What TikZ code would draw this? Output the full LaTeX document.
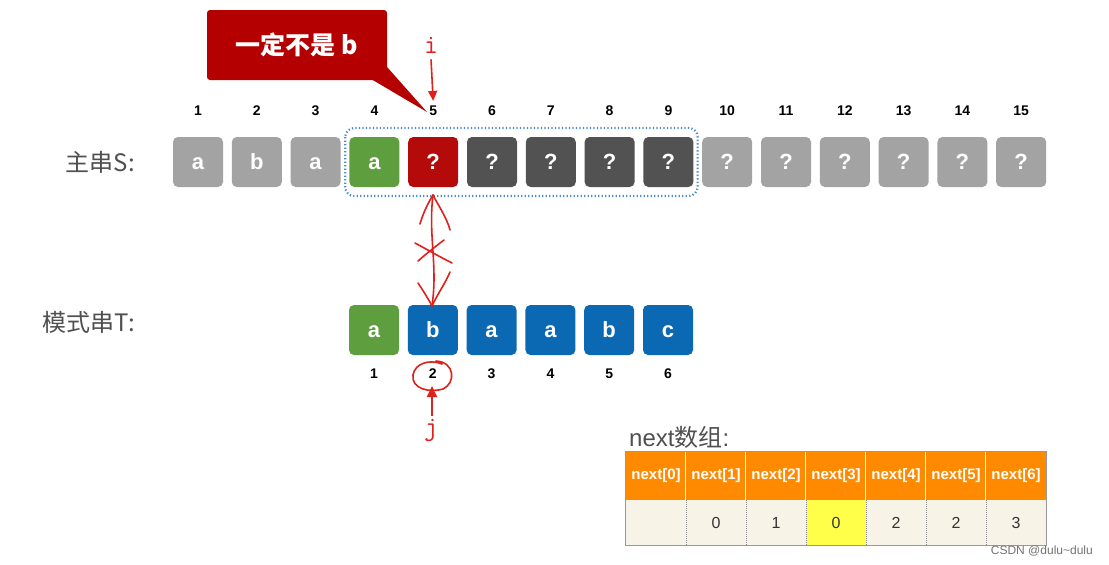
\documentclass[tikz,border=0pt]{standalone}
\usepackage{fontspec}
\setmainfont{Liberation Sans}
\newfontfamily\cjk{Noto Sans CJK SC}
\usetikzlibrary{arrows.meta,calc,fit}
\definecolor{sgray}{HTML}{A3A3A3}
\definecolor{sdark}{HTML}{525252}
\definecolor{sgreen}{HTML}{5E9E3E}
\definecolor{sred}{HTML}{B50A0A}
\definecolor{sblue}{HTML}{0B69B3}
\definecolor{dotblue}{HTML}{4F8CCB}
\definecolor{callred}{HTML}{B40000}
\definecolor{hand}{HTML}{E0201A}
\definecolor{labgray}{HTML}{505050}
\definecolor{hdrorange}{HTML}{FF8A00}
\definecolor{valbeige}{HTML}{F7F3E6}
\definecolor{valyellow}{HTML}{FFFF4A}
\begin{document}
\begin{tikzpicture}[x=1pt,y=-1pt,
  cell/.style={minimum width=50pt,minimum height=50pt,rounded corners=5pt,inner sep=0pt,
    text height=15pt,text depth=0pt,
    text=white,font=\fontsize{22}{22}\selectfont\bfseries},
  idx/.style={font=\fontsize{14}{14}\selectfont\bfseries,text=black,inner sep=0pt},
  lab/.style={font=\cjk\fontsize{24}{24}\selectfont,text=labgray,anchor=east,inner sep=0pt},
  hdr/.style={minimum width=60pt,minimum height=48pt,inner sep=0pt,fill=hdrorange,text=white,
    font=\fontsize{15}{15}\selectfont\bfseries},
  val/.style={minimum width=60pt,minimum height=45pt,inner sep=0pt,fill=valbeige,text=black!80,
    font=\fontsize{16}{16}\selectfont},
  handline/.style={hand,line width=1.6pt,line cap=round,line join=round}]
\useasboundingbox (0,0) rectangle (1109,565);
\fill[white] (0,0) rectangle (1109,565);

% main string S
\foreach \i/\c/\l in {1/sgray/a,2/sgray/b,3/sgray/a,4/sgreen/a,5/sred/?,6/sdark/?,7/sdark/?,8/sdark/?,9/sdark/?,
  10/sgray/?,11/sgray/?,12/sgray/?,13/sgray/?,14/sgray/?,15/sgray/?}{
  \node[cell,fill=\c] (s\i) at ({198+(\i-1)*58.8},162) {\l};
  \node[idx] (n\i) at ({198+(\i-1)*58.8},111) {\i};
}
\node[lab] (slab) at (135,162) {主串S:};

% window
\draw[dotblue,line width=2.2pt,dash pattern=on 1.3pt off 2.2pt,rounded corners=9pt]
  ($(s4.west)+(-4,-34)$) rectangle ($(s9.east)+(4,34)$);

% pattern T
\foreach \i/\c/\l in {1/sgreen/a,2/sblue/b,3/sblue/a,4/sblue/a,5/sblue/b,6/sblue/c}{
  \node[cell,fill=\c] (t\i) at ({374+(\i-1)*58.8},330) {\l};
  \node[idx] (m\i) at ({374+(\i-1)*58.8},374) {\i};
}
\node[lab] (tlab) at (135,322) {模式串T:};

% callout
\node[fill=callred,rounded corners=3pt,minimum width=180pt,minimum height=70pt,inner sep=0pt,
  text=white,font=\cjk\fontsize{25}{25}\selectfont\bfseries] (call) at (297,45) {一定不是 b};
\coordinate (tip) at (427,112);
\fill[callred] ($(call.south east)+(-15,-0.5)$) -- ($(call.south east)+(0,-13)$) -- (tip) -- cycle;

% i pointer
\node[text=hand,font=\ttfamily\fontsize{27}{27}\selectfont,inner sep=0pt] (ilab) at (431,45) {i};
\draw[hand,line width=1.6pt,-{Triangle[length=10pt,width=9pt]}] ($(ilab.south)+(0,6)$) -- ($(n5.north)+(0,-5)$);

% hand-drawn double arrow with cross
\coordinate (atop) at (433,195);
\coordinate (abot) at (432,306);
\draw[handline] (atop) .. controls (428,235) and (438,265) .. (abot);
\draw[handline] (420,224) .. controls (424,210) and (430,200) .. (atop) .. controls (438,205) and (447,218) .. (450,230);
\draw[handline] (418,283) .. controls (424,292) and (429,300) .. (abot) .. controls (437,295) and (446,282) .. (450,272);
\draw[handline] (415,243) .. controls (428,250) and (440,257) .. (452,263);
\draw[handline] (418,261) .. controls (426,254) and (436,246) .. (444,240);

% circle around 2 and j pointer
\draw[handline] (442,364) .. controls (430,359) and (415,363) .. (413,375)
  .. controls (411,389) and (430,393) .. (443,389) .. controls (456,383) and (455,362) .. (436,361);
\node[text=hand,font=\ttfamily\fontsize{27}{27}\selectfont,inner sep=0pt] (jlab) at (431,430) {j};
\draw[hand,line width=1.8pt,-{Triangle[length=11pt,width=10pt]}] ($(jlab.north)+(1,-3)$) -- (432,386);

% next table
\node[font=\fontsize{24}{24}\selectfont,text=labgray,anchor=west,inner sep=0pt] (ttl) at (629,437) {next{\cjk 数组}:};
\foreach \k in {0,...,6}{
  \node[hdr] (h\k) at ({656+\k*60},476) {next[\k]};
}
\foreach \k/\v in {0/{},1/0,2/1,3/0,4/2,5/2,6/3}{
  \node[val] (v\k) at ({656+\k*60},522.5) {\v};
}
\node[val,fill=valyellow] at (v3) {0};
\foreach \k in {1,...,6}{
  \draw[white,line width=0.8pt] (h\k.north west) -- (h\k.south west);
  \draw[black!45,line width=0.6pt,dash pattern=on 1pt off 1pt] (v\k.north west) -- (v\k.south west);
}
\draw[black!40,line width=0.8pt] (h0.north west) rectangle (v6.south east);

% watermark
\node[font=\fontsize{12}{12}\selectfont,text=black!55,anchor=east,inner sep=0pt] (wm) at (1093,551) {CSDN @dulu\textasciitilde dulu};
\end{tikzpicture}
\end{document}
